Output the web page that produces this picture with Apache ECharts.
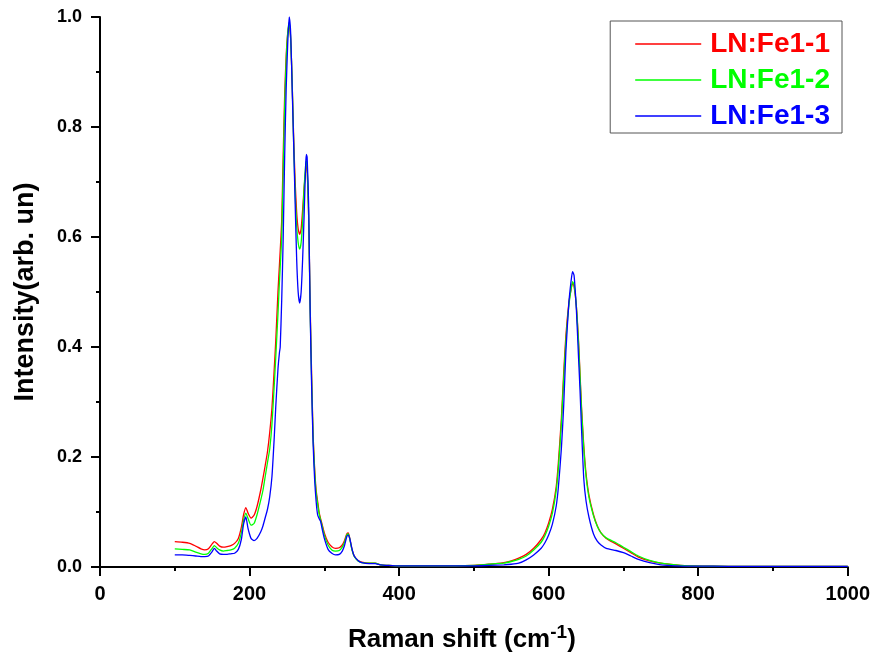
<!DOCTYPE html>
<html>

<head>
	<meta charset="UTF-8">
	<title>Raman</title>
	<style>
		body { margin: 0; background: #fff; }
		#chart { width: 873px; height: 661px; }
	</style>
	<script src="https://cdn.jsdelivr.net/npm/echarts@6/dist/echarts.min.js"></script>
</head>

<body>
	<div id="chart"></div>
	<script>
		// Raman shift grid (cm-1), denser around the peaks
		var ramanShift = [
			100, 110, 120, 128, 135, 140, 145, 150, 153, 156, 160, 165, 170, 175, 180, 185, 189, 192, 195, 198, 202, 206, 210,
			215, 218, 221, 224, 227, 230, 233, 235, 238, 240, 241, 243, 245, 247, 249, 251, 253, 255, 257, 259, 261, 263, 265, 267, 269, 271, 273, 275, 276, 277, 279, 281, 283, 285, 287, 289, 291, 293, 295, 297, 300,
			305, 310, 315, 320, 324, 327, 330, 332, 334, 337, 340, 345, 350, 360, 368, 375, 385, 400, 450, 500, 520,
			540, 550, 560, 570, 580, 590, 595, 600, 605, 610, 613, 617, 620, 623, 627, 630, 632, 634, 637, 640, 642, 644, 647, 650, 654, 660, 665, 670, 677, 690, 700, 710, 720, 735, 750, 770, 790,
			820, 860, 900, 950, 1000
		];
		var fe11 = [
			.046, .045, .043, .038, .033, .031, .033, .042, .046, .043, .038, .036, .037, .039, .043, .052, .072, .095, .108, .098, .089, .094, .110,
			.140, .162, .185, .21, .245, .29, .36, .41, .50, .55, .575, .63, .75, .86, .93, .97, .985, .96, .88, .78, .70, .645, .615, .605, .615, .65, .69, .72, .73, .725, .64, .48, .35, .24, .18, .14, .12, .10, .088, .078, .062,
			.045, .037, .034, .035, .040, .048, .060, .062, .052, .032, .020, .012, .009, .007, .007, .004, .003, .002, .002, .003, .005,
			.008, .011, .016, .023, .034, .050, .062, .080, .105, .145, .19, .27, .35, .42, .48, .505, .516, .51, .475, .41, .35, .29, .22, .17, .13, .095, .075, .062, .052, .042, .034, .026, .018, .011, .007, .004, .002,
			.0015, .001, .001, .001, .001
		];
		var fe12 = [
			.033, .032, .031, .027, .024, .023, .025, .034, .039, .035, .031, .029, .030, .031, .034, .043, .062, .085, .098, .088, .076, .079, .095,
			.122, .14, .165, .19, .215, .26, .33, .38, .46, .52, .545, .60, .72, .84, .92, .97, .99, .96, .88, .77, .68, .62, .59, .578, .59, .63, .69, .73, .738, .73, .64, .47, .34, .235, .175, .135, .115, .097, .085, .075, .058,
			.040, .031, .029, .030, .036, .045, .058, .060, .051, .031, .019, .011, .008, .007, .007, .004, .003, .002, .002, .003, .005,
			.007, .010, .014, .020, .031, .045, .057, .074, .098, .138, .18, .26, .34, .41, .475, .505, .519, .513, .475, .405, .345, .285, .215, .165, .126, .093, .074, .062, .053, .044, .036, .028, .020, .012, .007, .004, .002,
			.0015, .001, .001, .001, .001
		];
		var fe13 = [
			.022, .022, .021, .020, .019, .019, .020, .028, .034, .029, .024, .023, .023, .024, .025, .032, .050, .078, .091, .070, .052, .048, .052,
			.064, .075, .090, .105, .128, .165, .235, .29, .36, .39, .40, .485, .60, .75, .87, .95, 1.0, .97, .87, .77, .66, .56, .50, .48, .50, .56, .64, .73, .75, .745, .66, .47, .33, .225, .16, .12, .095, .088, .083, .07, .052,
			.032, .025, .022, .023, .029, .039, .055, .058, .052, .033, .020, .012, .008, .006, .006, .004, .003, .002, .002, .002, .003,
			.004, .005, .007, .013, .022, .034, .044, .058, .078, .11, .145, .215, .29, .39, .48, .52, .537, .53, .47, .38, .32, .25, .16, .12, .09, .06, .047, .040, .034, .030, .026, .020, .014, .008, .004, .002, .0015,
			.0015, .001, .001, .001, .001
		];
		var seriesNames = ['LN:Fe1-1', 'LN:Fe1-2', 'LN:Fe1-3'];
		var seriesColors = ['#ff0000', '#00ff00', '#0000ff'];

		function pairs(ys) {
			return ramanShift.map(function (x, i) { return [x, ys[i]]; });
		}

		var font = 'Arial, "Liberation Sans", sans-serif';
		var axisCommon = {
			axisLine: { lineStyle: { color: '#000', width: 2 } },
			axisTick: { inside: false, length: 9, lineStyle: { color: '#000', width: 2 } },
			minorTick: { show: true, splitNumber: 2, length: 4, lineStyle: { color: '#000', width: 2 } },
			splitLine: { show: false },
			nameLocation: 'middle'
		};

		var myChart = echarts.init(document.getElementById('chart'));
		myChart.setOption({
			animation: false,
			backgroundColor: '#fff',
			grid: { left: 100, right: 25, top: 17, bottom: 94 },
			legend: {
				orient: 'vertical',
				right: 31,
				top: 21,
				padding: [9, 12, 3, 25],
				borderColor: '#555',
				borderWidth: 1,
				icon: 'rect',
				itemWidth: 66,
				itemHeight: 1.5,
				itemGap: 8,
				textStyle: { fontFamily: font, fontWeight: 'bold', fontSize: 28, lineHeight: 28, padding: [0, 0, 0, 4] },
				data: seriesNames.map(function (n, i) {
					return { name: n, textStyle: { color: seriesColors[i] } };
				})
			},
			xAxis: Object.assign({}, axisCommon, {
				type: 'value',
				min: 0,
				max: 1000,
				interval: 200,
				axisLabel: {
					color: '#000', fontFamily: font, fontWeight: 'bold', fontSize: 20, margin: 17,
					formatter: function (v) { return String(v); }
				},
				name: '{a|Raman shift (cm}{s|-1}{a|)}',
				nameGap: 56,
				nameTextStyle: {
					padding: [0, 24, 0, 0],
					rich: {
						a: { fontFamily: font, fontWeight: 'bold', fontSize: 26, color: '#000' },
						s: { fontFamily: font, fontWeight: 'bold', fontSize: 19, color: '#000', padding: [0, 0, 14, 0] }
					}
				}
			}),
			yAxis: Object.assign({}, axisCommon, {
				type: 'value',
				min: 0,
				max: 1,
				interval: 0.2,
				axisLabel: {
					color: '#000', fontFamily: font, fontWeight: 'bold', fontSize: 18, margin: 18,
					formatter: function (v) { return v.toFixed(1); }
				},
				name: 'Intensity(arb. un)',
				nameGap: 61,
				nameTextStyle: { fontFamily: font, fontWeight: 'bold', fontSize: 27, color: '#000' }
			}),
			series: seriesNames.map(function (n, i) {
				return {
					name: n,
					type: 'line',
					data: pairs([fe11, fe12, fe13][i]),
					symbol: 'none',
					smooth: 0.2,
					lineStyle: { color: seriesColors[i], width: 1.3 },
					itemStyle: { color: seriesColors[i] }
				};
			})
		});
	</script>
</body>

</html>
